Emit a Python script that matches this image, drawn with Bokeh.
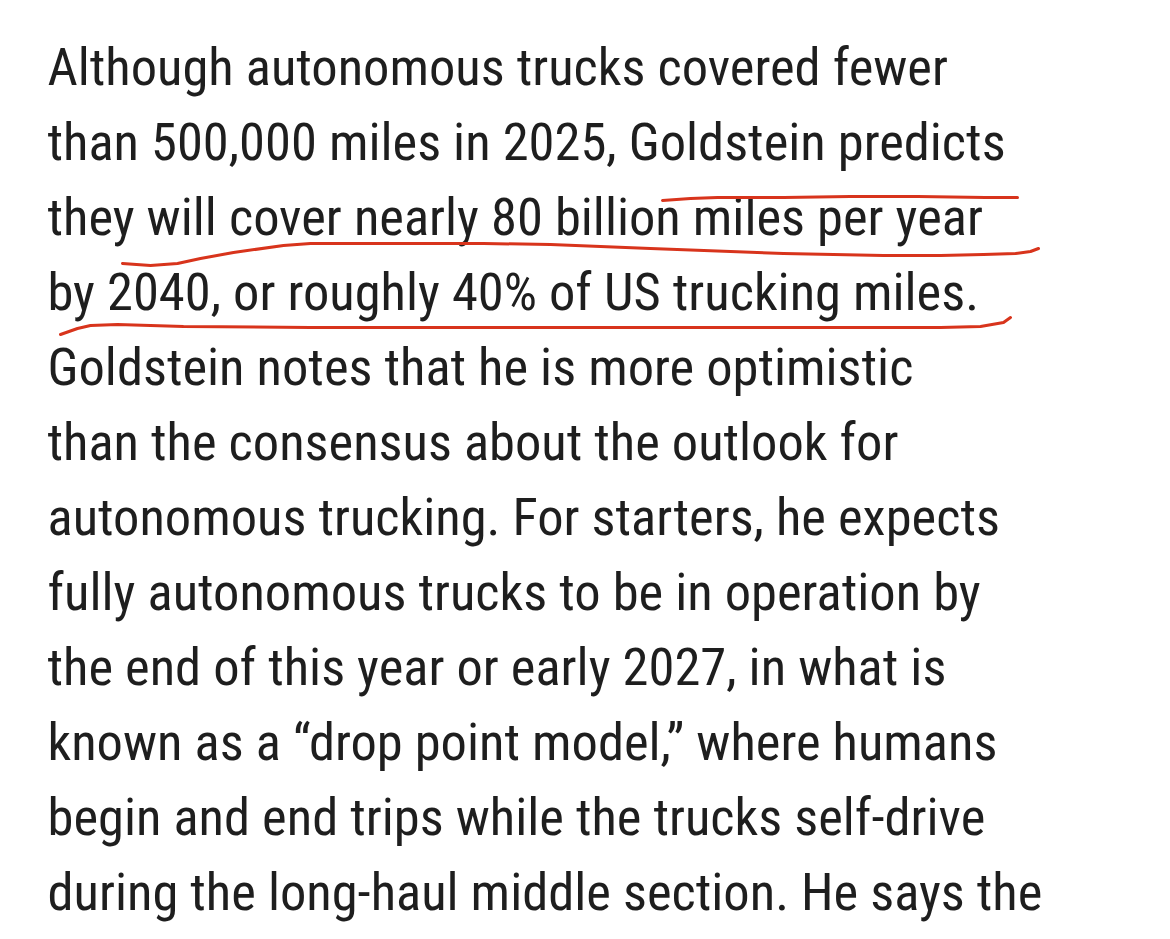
from bokeh.plotting import figure
from bokeh.models import Range1d, ColumnDataSource
from bokeh.core.properties import value
from bokeh.embed import file_html
from bokeh.resources import INLINE

# ---- data ----
text_lines = [
    "Although autonomous trucks covered fewer",
    "than 500,000 miles in 2025, Goldstein predicts",
    "they will cover nearly 80 billion miles per year",
    "by 2040, or roughly 40% of US trucking miles.",
    "Goldstein notes that he is more optimistic",
    "than the consensus about the outlook for",
    "autonomous trucking. For starters, he expects",
    "fully autonomous trucks to be in operation by",
    "the end of this year or early 2027, in what is",
    "known as a \u201cdrop point model,\u201d where humans",
    "begin and end trips while the trucks self-drive",
    "during the long-haul middle section. He says the",
]
line_numbers = list(range(len(text_lines)))

# hand-drawn red underlines (picture pixel coordinates)
mark1_x = [662, 690, 717, 783, 850, 917, 985, 1017]
mark1_y = [200, 198, 197, 197, 196, 196, 197, 197]
mark2_x = [122, 150, 177, 200, 233, 283, 310, 350, 483, 550, 650, 783, 883, 940, 983, 1015, 1030, 1038]
mark2_y = [263, 265, 263, 258, 252, 245, 243, 243, 243, 244, 248, 253, 255, 255, 254, 253, 251, 248]
mark3_x = [60, 77, 90, 117, 183, 310, 550, 783, 940, 980, 1003, 1010]
mark3_y = [334, 328, 325, 324, 326, 327, 327, 327, 327, 326, 322, 317]

# ---- layout ----
W, H = 1154, 923
FONT_PX = 52.5
LEFT = 47
FIRST_BASELINE = 87
PITCH = 75
BASELINE_FIX = 0.39 * FONT_PX  # renderer draws "alphabetic" text lower than its anchor

p = figure(width=W, height=H, output_backend="svg", toolbar_location=None,
           x_range=Range1d(0, W), y_range=Range1d(H, 0), min_border=0)
p.axis.visible = False
p.xgrid.visible = False
p.ygrid.visible = False
p.outline_line_color = None
p.background_fill_color = "white"
p.border_fill_color = "white"

src = ColumnDataSource(dict(
    x=[LEFT] * len(text_lines),
    y=[FIRST_BASELINE + PITCH * i - BASELINE_FIX for i in line_numbers],
    t=text_lines,
))
p.text(x="x", y="y", text="t", source=src,
       text_font=value("Roboto Condensed"), text_font_size=f"{FONT_PX}px",
       text_color="#1e1e1e", text_baseline="alphabetic", text_align="left")

red = "#d8341c"
for xs, ys in [(mark1_x, mark1_y), (mark2_x, mark2_y), (mark3_x, mark3_y)]:
    p.line(xs, ys, line_color=red, line_width=3, line_cap="round", line_join="round")

open("out.html", "w").write(file_html(p, INLINE))
